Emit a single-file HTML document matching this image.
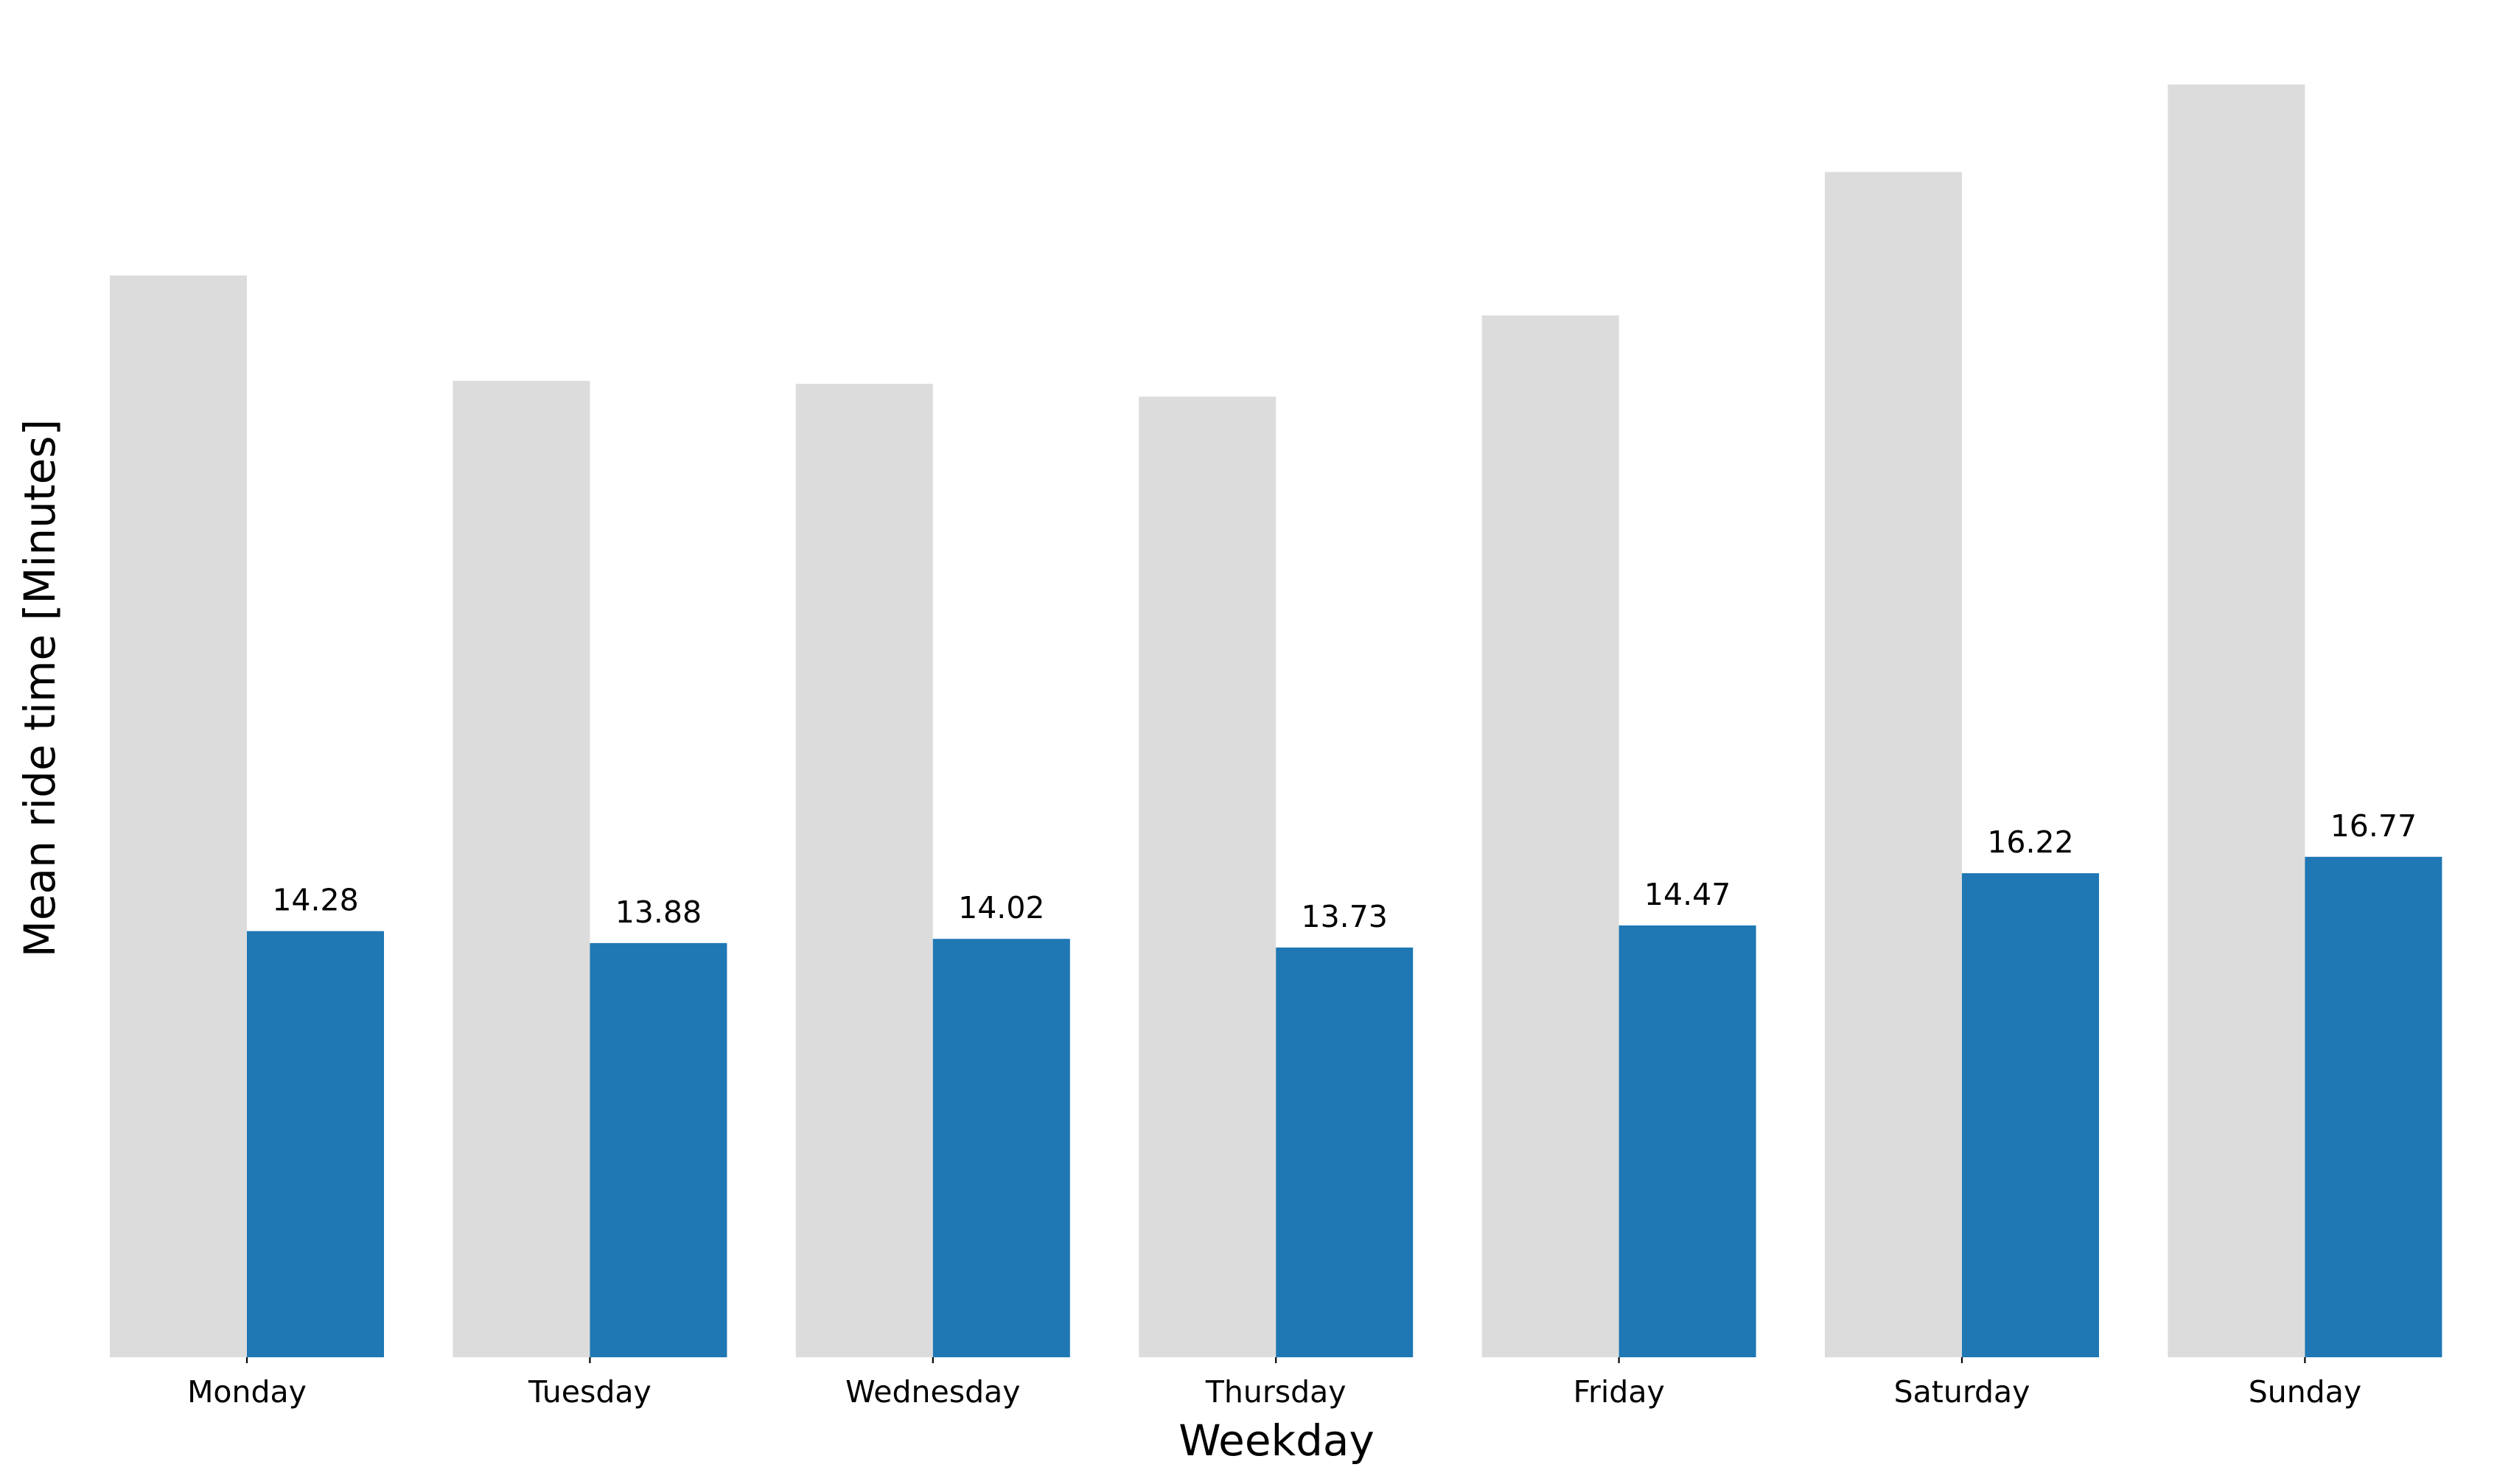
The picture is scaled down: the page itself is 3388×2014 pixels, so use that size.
<!DOCTYPE html>
<html><head><meta charset="utf-8"><style>
html,body{margin:0;padding:0;background:#fff;}
svg{display:block;font-family:"DejaVu Sans","Liberation Sans",sans-serif;}
</style></head><body>
<svg id="chart" width="3388" height="2014" viewBox="0 0 3388 2014" xmlns="http://www.w3.org/2000/svg">
<g id="bars"></g>
<g id="xticks"></g>
<text x="1732" y="1975" font-size="58" text-anchor="middle">Weekday</text>
<text transform="translate(74,934) rotate(-90)" font-size="58" text-anchor="middle">Mean ride time [Minutes]</text>
</svg>
<script>
const categories = ["Monday","Tuesday","Wednesday","Thursday","Friday","Saturday","Sunday"];
const greyValues = [36.25, 32.72, 32.62, 32.19, 34.91, 39.72, 42.65];
const blueValues = [14.28, 13.88, 14.02, 13.73, 14.47, 16.22, 16.77];
const valueLabels = ["14.28","13.88","14.02","13.73","14.47","16.22","16.77"];

const NS = "http://www.w3.org/2000/svg";
const baseline = 1842, perUnit = 40.5;
const x0 = 335, step = 465.4, bw = 186;
function xPos(i){ return x0 + i*step; }
function yPos(v){ return baseline - v*perUnit; }
const bars = document.getElementById('bars');
const ticks = document.getElementById('xticks');
function mk(tag, attrs){ const e=document.createElementNS(NS,tag); for(const k in attrs) e.setAttribute(k,attrs[k]); return e; }
categories.forEach((c,i)=>{
  const cx = xPos(i);
  const g = mk('rect',{x:cx-bw,y:yPos(greyValues[i]),width:bw,height:baseline-yPos(greyValues[i]),fill:'#dcdcdc'});
  
  
  bars.appendChild(g);
  const b = mk('rect',{x:cx,y:yPos(blueValues[i]),width:bw,height:baseline-yPos(blueValues[i]),fill:'#1f77b4'});
  
  
  bars.appendChild(b);
  const t = mk('text',{x:cx+bw/2,y:yPos(blueValues[i])-28,'font-size':41,'text-anchor':'middle'});
  t.textContent = valueLabels[i];
  
  
  bars.appendChild(t);
  const tk = mk('line',{x1:cx,x2:cx,y1:baseline,y2:baseline+8,stroke:'#000','stroke-width':2.2});
  
  
  ticks.appendChild(tk);
  const tl = mk('text',{x:cx,y:1903,'font-size':41,'text-anchor':'middle'});
  tl.textContent = c;
  
  
  ticks.appendChild(tl);
});
</script>
</body></html>
